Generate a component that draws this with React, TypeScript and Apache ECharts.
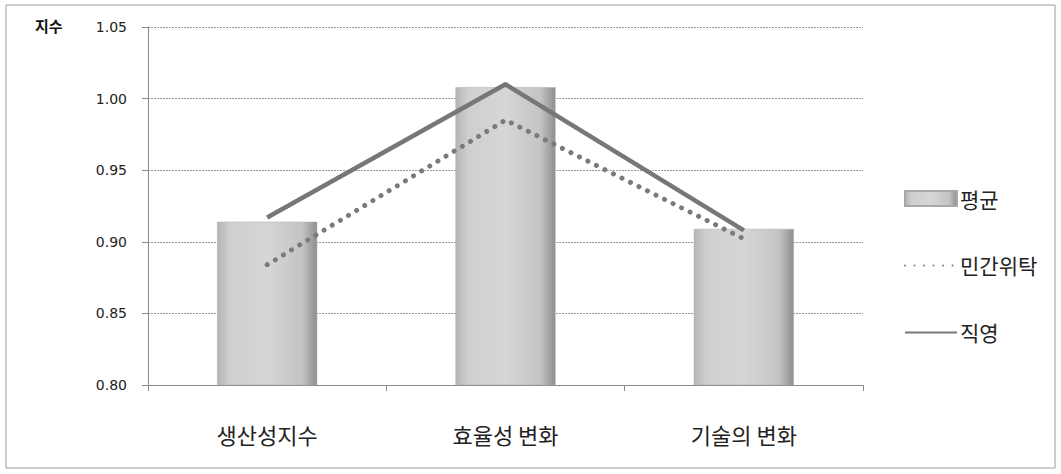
import React, { useEffect, useRef } from "react";
import * as echarts from "echarts";

const categories = ["생산성지수", "효율성 변화", "기술의 변화"];
const averageValues = [0.914, 1.008, 0.909];
const privateValues = [0.884, 0.985, 0.902];
const directValues = [0.917, 1.01, 0.908];
const yTicks = { min: 0.8, max: 1.05, interval: 0.05 };

const FONT = "'Noto Sans CJK KR', 'Noto Sans', sans-serif";

export default function App() {
  const ref = useRef<HTMLDivElement>(null);

  useEffect(() => {
    if (!ref.current) return;
    const chart = echarts.init(ref.current, undefined, { renderer: "svg" });

    const barFill = new echarts.graphic.LinearGradient(0, 0, 1, 0, [
      { offset: 0, color: "#b4b4b4" },
      { offset: 0.12, color: "#cfcfcf" },
      { offset: 0.5, color: "#d6d6d6" },
      { offset: 0.85, color: "#c4c4c4" },
      { offset: 1, color: "#8e8e8e" },
    ]);

    chart.setOption({
      animation: false,
      backgroundColor: "#ffffff",
      grid: { left: 148, right: 198, top: 27, bottom: 89, containLabel: false },
      graphic: [
        {
          type: "rect",
          shape: { x: 6, y: 5, width: 1049, height: 463 },
          style: { fill: "none", stroke: "#9a9a9a", lineWidth: 1 },
          silent: true,
        },
        {
          type: "text",
          x: 35,
          y: 18,
          style: { text: "지수", font: `bold 15px ${FONT}`, fill: "#111" },
        },
      ],
      legend: {
        orient: "vertical",
        left: 899,
        top: 183,
        itemGap: 46,
        itemWidth: 52,
        itemHeight: 15,
        textStyle: { fontFamily: FONT, fontSize: 21, color: "#222", padding: [4, 0, 0, -2] },
        data: [
          { name: "평균", icon: "rect" },
          { name: "민간위탁", itemStyle: { opacity: 0 } },
          { name: "직영", itemStyle: { opacity: 0 } },
        ],
      },
      xAxis: {
        type: "category",
        data: categories,
        axisLine: { lineStyle: { color: "#8a8a8a", width: 1 } },
        axisTick: { show: true, length: 6, lineStyle: { color: "#8a8a8a" } },
        axisLabel: { fontFamily: FONT, fontSize: 22, color: "#222", margin: 38 },
      },
      yAxis: {
        type: "value",
        min: yTicks.min,
        max: yTicks.max,
        interval: yTicks.interval,
        axisLine: { show: true, lineStyle: { color: "#8a8a8a", width: 1 } },
        axisTick: { show: true, length: 6, lineStyle: { color: "#8a8a8a" } },
        axisLabel: {
          fontFamily: "'DejaVu Sans', sans-serif",
          fontSize: 14,
          color: "#222",
          margin: 21,
          formatter: (v: number) => v.toFixed(2),
        },
        splitLine: { lineStyle: { color: "#9a9a9a", type: [2, 1], width: 1 } },
      },
      series: [
        {
          name: "평균",
          type: "bar",
          data: averageValues,
          barWidth: 100,
          itemStyle: { color: barFill, borderColor: "#a8a8a8", borderWidth: 0.5 },
          z: 2,
        },
        {
          name: "민간위탁",
          type: "line",
          data: privateValues,
          showSymbol: false,
          symbol: "none",
          lineStyle: { color: "#7a7a7a", width: 5, type: [0.01, 9.5], cap: "round" },
          itemStyle: { color: "#7a7a7a" },
          z: 3,
        },
        {
          name: "직영",
          type: "line",
          data: directValues,
          showSymbol: false,
          symbol: "none",
          lineStyle: { color: "#777777", width: 4.5 },
          itemStyle: { color: "#777777" },
          z: 4,
        },
      ],
    });

    return () => chart.dispose();
  }, []);

  return (
    <div
      ref={ref}
      style={{ position: "fixed", left: 0, top: 0, width: 1061, height: 474 }}
    />
  );
}
